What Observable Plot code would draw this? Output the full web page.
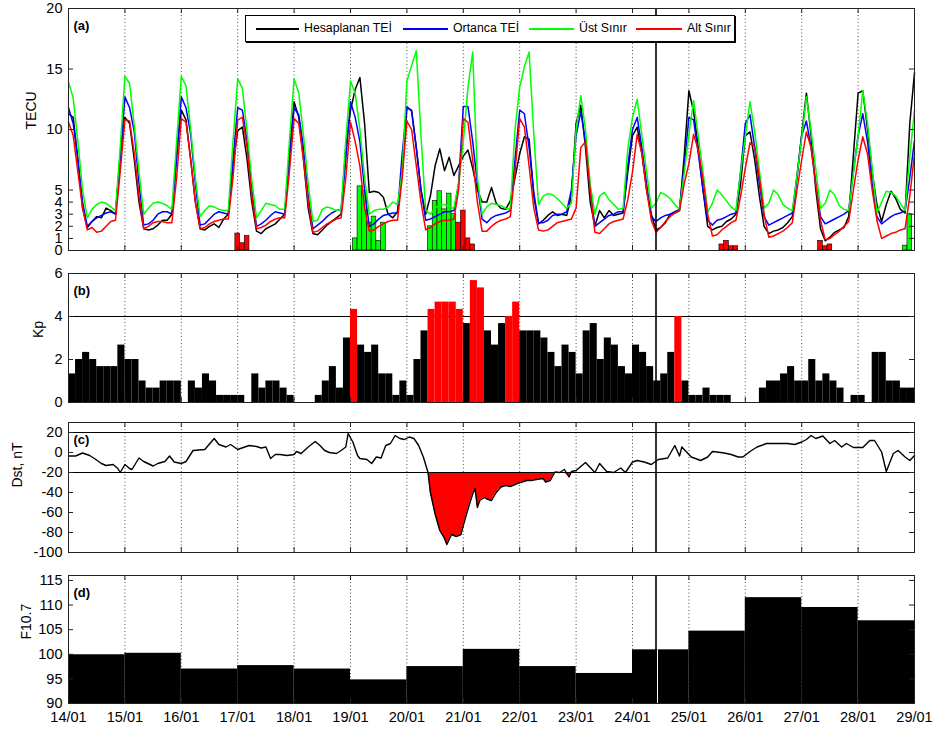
<!DOCTYPE html>
<html><head><meta charset="utf-8">
<script src="https://cdn.jsdelivr.net/npm/d3@7"></script>
<script src="https://cdn.jsdelivr.net/npm/@observablehq/plot@0.6"></script>
<style>
body{margin:0;background:#fff;width:933px;height:731px;position:relative;overflow:hidden;font-family:"Liberation Sans",Arial,sans-serif;}
.panel{position:absolute;left:0;}
#legend{position:absolute;left:245px;top:15px;width:488px;height:25px;border:1px solid #000;box-shadow:1px 1px 0 #000;background:#fff;font-size:12.3px;color:#000;}
#legend .ln{position:absolute;top:12px;height:2px;}
#legend .tx{position:absolute;top:5px;white-space:nowrap;}
</style></head>
<body>
<div id="pa" class="panel" style="top:0"></div>
<div id="pb" class="panel" style="top:262px"></div>
<div id="pc" class="panel" style="top:412px"></div>
<div id="pd" class="panel" style="top:562px"></div>
<div id="legend">
  <div class="ln" style="left:10px;width:43px;background:#000"></div><div class="tx" style="left:58px">Hesaplanan TEİ</div>
  <div class="ln" style="left:157px;width:45px;background:#0000ff"></div><div class="tx" style="left:207px">Ortanca TEİ</div>
  <div class="ln" style="left:283px;width:45px;background:#00ff00"></div><div class="tx" style="left:333px">Üst Sınır</div>
  <div class="ln" style="left:390px;width:46px;background:#ff0000"></div><div class="tx" style="left:441px">Alt Sınır</div>
</div>
<script>
// ---------- DATA ----------
const dayLabels = ["14/01","15/01","16/01","17/01","18/01","19/01","20/01","21/01","22/01","23/01","24/01","25/01","26/01","27/01","28/01","29/01"];
const seriesNames = ["Hesaplanan TEİ","Ortanca TEİ","Üst Sınır","Alt Sınır"];

// TEC, every 2 hours from 14/01 00:00 to 29/01 00:00
const tecHesaplanan = [
11.3,11.0,7.5,3.5,1.9,2.4,2.8,2.7,3.5,3.3,3.0,8.0,
11.0,10.5,7.5,4.0,1.8,1.7,1.8,2.1,2.5,2.5,3.0,8.0,
11.6,10.8,7.5,4.0,1.8,1.7,2.0,2.2,1.9,2.6,3.0,7.0,
9.9,10.2,7.5,4.0,1.6,1.4,1.8,2.0,2.2,2.6,3.0,8.0,
12.3,11.0,7.5,3.5,1.4,1.3,1.7,2.1,2.4,2.7,3.0,8.5,
11.6,13.3,14.3,10.5,4.8,4.9,4.8,4.4,3.0,2.7,3.2,6.5,
11.8,11.6,8.5,5.0,3.0,4.5,7.0,8.4,6.6,7.7,6.2,7.0,
7.8,8.3,6.8,5.0,4.0,4.0,5.2,3.9,3.5,3.4,4.1,6.0,
8.0,9.4,9.2,4.5,2.2,2.5,2.9,3.2,2.9,3.0,2.9,4.5,
10.5,12.0,8.5,4.0,2.0,3.3,2.7,3.3,2.9,3.0,3.1,6.5,
9.5,10.2,8.0,5.0,3.0,1.7,1.9,2.3,3.0,3.1,3.3,7.8,
13.2,11.5,8.5,5.0,2.0,1.7,1.9,2.0,2.4,2.6,3.0,5.5,
9.5,9.8,7.5,4.5,2.0,1.4,1.6,1.7,1.9,2.3,2.8,6.2,
9.6,13.0,9.5,5.0,1.8,0.8,1.1,1.5,1.7,1.9,2.8,7.9,
13.0,13.2,10.0,6.5,3.8,2.4,3.8,4.9,4.3,3.4,3.1,10.5,
14.7];
const tecOrtanca = [
11.8,10.5,7.5,4.0,2.0,2.4,2.7,2.9,3.1,3.2,3.0,7.5,
12.7,11.8,9.8,5.5,2.1,2.2,2.5,3.0,3.2,3.2,3.0,7.5,
12.7,11.8,9.6,5.5,2.1,2.2,2.6,3.0,3.2,3.1,3.0,7.5,
11.8,11.6,9.0,5.0,2.0,2.2,2.5,2.9,3.2,3.1,3.0,7.5,
11.8,11.2,8.5,4.5,1.8,2.1,2.4,2.8,3.1,3.3,3.4,7.5,
12.3,11.0,9.0,5.0,2.0,2.2,2.6,2.9,3.0,3.1,3.1,8.0,
11.9,11.5,8.5,5.0,2.5,2.6,2.8,3.0,3.2,3.2,3.3,5.5,
11.9,11.9,9.0,5.5,2.6,2.3,2.7,2.9,3.0,3.1,3.3,7.5,
11.6,11.3,8.5,4.8,2.3,2.3,2.5,2.9,3.0,3.0,3.2,5.0,
9.5,11.5,9.0,5.0,2.0,2.3,2.6,2.9,3.0,3.2,3.2,7.0,
10.0,11.0,8.5,5.5,2.8,2.4,2.7,2.9,3.0,3.2,3.4,7.0,
11.0,10.8,8.0,5.0,2.5,2.1,2.5,2.6,2.8,3.0,3.1,6.5,
10.5,11.2,8.5,5.5,2.8,2.1,2.3,2.5,2.7,2.9,3.1,6.0,
9.5,10.7,8.5,5.5,2.8,2.2,2.4,2.6,2.8,3.0,3.3,6.5,
9.5,11.3,9.0,5.5,2.8,2.2,2.5,2.8,3.0,3.1,3.3,6.0,
9.1];
const tecUst = [
13.9,12.6,9.0,5.0,2.7,3.4,3.8,4.0,3.9,3.6,3.3,8.5,
14.4,13.8,10.3,6.5,3.0,3.5,3.9,4.0,3.9,3.7,3.4,9.0,
14.4,13.6,10.0,6.0,2.8,3.3,3.7,3.6,3.4,3.3,3.3,9.0,
14.2,13.4,9.8,5.8,2.7,3.3,3.9,3.8,3.7,3.4,3.4,9.0,
14.2,13.0,9.5,5.5,2.4,2.5,3.4,3.6,3.5,3.3,3.4,9.1,
14.0,13.0,10.0,6.0,3.0,3.3,3.4,3.4,3.6,4.0,3.8,6.5,
14.0,15.3,16.5,9.5,3.3,3.0,3.5,3.8,3.8,3.6,3.5,5.5,
9.0,13.5,16.4,6.0,3.0,3.6,3.9,3.8,3.7,3.5,3.4,10.0,
13.5,15.2,16.4,9.6,3.8,4.5,4.7,4.6,4.3,3.9,3.5,3.9,
10.0,12.8,10.0,5.5,3.0,4.5,4.8,4.2,3.8,3.4,3.5,8.4,
11.0,12.5,9.5,6.5,3.5,3.9,4.8,4.6,4.3,3.8,3.4,6.4,
9.6,12.4,9.4,6.5,3.2,3.9,5.0,4.6,4.1,3.6,3.3,6.5,
9.4,12.3,9.8,6.6,3.5,3.9,5.0,4.6,3.8,3.5,3.3,6.2,
9.3,12.7,9.9,6.7,3.5,3.9,5.0,4.6,3.7,3.4,3.3,6.4,
9.5,13.2,10.5,6.8,3.1,4.0,4.9,4.8,4.5,3.9,3.3,7.8,
11.6];
const tecAlt = [
10.6,9.5,6.5,3.5,1.7,1.9,1.5,1.6,2.0,2.4,2.5,6.5,
10.8,10.7,8.0,4.5,1.8,2.0,2.3,2.4,2.4,2.3,2.3,6.0,
10.9,10.6,7.5,4.0,1.8,1.9,2.2,2.4,2.5,2.6,2.6,6.0,
10.8,11.0,8.5,4.5,1.8,1.9,2.1,2.4,2.6,2.7,2.7,6.5,
10.9,10.5,7.5,4.0,1.5,1.6,1.9,2.2,2.4,2.6,2.7,6.0,
10.6,9.0,7.0,3.5,1.6,1.7,2.0,2.2,2.4,2.5,2.5,6.0,
10.7,10.0,7.0,4.0,1.7,1.9,2.2,2.4,2.5,2.5,2.6,5.0,
10.9,10.6,7.5,4.0,1.6,1.6,2.0,2.3,2.5,2.6,2.8,6.5,
10.9,10.2,7.0,3.5,1.7,1.6,1.7,2.0,2.3,2.4,2.5,2.6,
3.5,8.5,9.0,5.0,1.5,1.4,1.8,2.2,2.4,2.5,2.6,4.2,
6.5,9.6,8.0,5.0,2.5,1.5,1.9,2.4,2.8,3.1,3.3,5.5,
7.2,9.6,8.3,5.9,3.0,1.2,1.3,1.7,2.0,2.3,2.5,4.5,
6.8,8.9,8.6,6.0,3.0,1.1,1.2,1.4,1.6,1.9,2.3,5.0,
7.5,9.8,8.5,5.5,2.5,0.9,1.0,1.3,1.6,2.0,2.4,5.0,
7.5,9.4,8.0,5.0,2.5,1.0,1.2,1.4,1.5,1.7,1.8,4.5,
8.0];

// 2-hour bars in panel (a): hour since 14/01 00:00 and height
const barUstHour  = [122,124,126,128,130,132,134, 154,156,158,160,162,164, 356,358];
const barUstValue = [1.0,5.3,4.9,2.3,2.8,0.8,2.3, 2.0,4.1,4.9,3.4,4.7,3.0, 0.4,3.0];
const barAltHour  = [72,74,76, 166,168,170,172, 278,280,282,284, 320,322,324];
const barAltValue = [1.4,0.6,1.2, 2.3,3.3,1.0,0.5, 0.5,0.8,0.35,0.35, 0.8,0.35,0.5];

// Kp, 3-hour values
const kp = [
1.33,2.0,2.33,2.0,1.67,1.67,1.67,2.67,
2.0,2.0,1.0,0.67,0.67,1.0,1.0,1.0,
0,1.0,0.67,1.33,1.0,0.33,0.33,0.33,
0.33,0,1.33,0.67,1.0,1.0,0.67,0.33,
0,0,0,0.33,1.0,1.67,0.67,3.0,
4.33,2.67,2.33,2.67,1.33,1.33,0.33,1.0,
0.33,2.0,3.33,4.33,4.67,4.67,4.67,4.33,
3.67,5.67,5.33,3.33,2.67,3.67,4.0,4.67,
3.33,3.33,3.33,3.0,2.33,1.67,2.67,2.33,
1.33,3.33,3.67,2.0,3.0,2.67,1.67,1.33,
2.67,2.33,1.67,1.0,1.33,2.33,4.0,1.0,
0.33,0.33,0.67,0.33,0.33,0.33,0,0,
0,0,0.67,1.0,1.0,1.33,1.67,1.0,
1.0,2.0,1.0,1.33,1.0,0.67,0,0.33,
0.33,0,2.33,2.33,1.0,1.0,0.67,0.67];

// Dst (nT)
const dstHour = [0,3,6,9,11,14,16,19,21,22,24,26,27,30,32,36,38,41,43,45,48,50,53,58,62,64,67,69,72,75,77,80,82,84,86,88,90,93,96,97,99,102,105,107,109,111,114,116,118,119,121,123,124,127,129,131,133,135,137,139,141,143,145,147,149,151,153,154,156,158,160,161,163,165,167,168,170,172,173,174,175,177,178,180,182,184,186,188,191,193,195,197,199,202,203,205,207,209,211,213,214,216,220,224,226,229,232,235,237,240,242,245,248,251,255,258,260,261,263,265,269,272,274,276,279,282,285,287,290,293,297,302,306,309,312,314,316,318,321,324,326,329,331,334,338,341,343,346,348,351,353,356,358,360];
const dstValue = [-3.5,-3.5,-0.5,-3,-6,-11,-13,-12,-16,-20,-12,-16,-17,-5.5,-9,-13.5,-11,-9,-3.5,-9.5,-11,-9,2,3,14,8,5.5,8,3,5.5,7,6,4.5,5.5,-6,-2,-2,-3,-2,1,-1,5.5,11,7,2,0,-1,2,5.5,19,10.5,-3,-6,-7,-11,-4.5,-5.5,7,9,17,14,13,15.5,14,7,-4.5,-20,-40,-61.5,-78,-86,-92,-82,-84,-82,-73,-56.5,-41.5,-36,-55,-48,-45,-46.5,-48,-40,-34.5,-33,-34,-31,-29.5,-28,-28,-27,-26,-29.5,-28,-19.5,-20,-17,-24.5,-19,-18,-10,-20,-11,-19,-20,-15.5,-20,-9.5,-8,-9.5,-12,-7,-5.5,7,-3.5,5.5,0.5,-4.5,-8,-4.5,1,0.5,-0.5,-2,-4.5,-4.5,1,5.5,9,9,9,8,10.5,13,17,14,16.5,9,12,5.5,9,5,5,12,12,0.5,-19,-1,2,-4.5,-8,-3];

// F10.7 daily
const f107 = [99.9,100.2,97.0,97.7,97.0,94.8,97.5,101.0,97.5,96.1,100.9,104.7,111.5,109.5,106.8];

const markerHour = 250;   // vertical reference line (24/01 ~10 UT)
const kpThreshold = 4;
const dstLevels = [20, -20];

// ---------- HELPERS ----------
const W = 933, ML = 68, MR = 19;
const PW = W - ML - MR;
const dayTicks = d3.range(0, 361, 24);
const innerDays = dayTicks.slice(1, -1);
const tickFont = '"Liberation Sans",Arial,sans-serif';
const style = {fontFamily: tickFont, fontSize: "14.5px", color: "#000", background: "transparent", overflow: "visible"};
const frameColor = "#222";
const plain = d => String(d);

function boxMarks(yTicks, plotH, label, yLabel, labelDx) {
  return [
    Plot.frame({stroke: frameColor, strokeWidth: 1}),
    Plot.tickY(yTicks, {y: d => d, insetRight: PW - 5, stroke: frameColor}),
    Plot.tickY(yTicks, {y: d => d, insetLeft: PW - 5, stroke: frameColor}),
    Plot.tickX(dayTicks, {x: d => d, insetBottom: plotH - 5, stroke: frameColor}),
    Plot.tickX(dayTicks, {x: d => d, insetTop: plotH - 5, stroke: frameColor}),
    Plot.text([label], {text: d => d, frameAnchor: "top-left", dx: 5, dy: 12, fontWeight: "bold", fontSize: 13}),
    Plot.text([yLabel], {text: d => d, frameAnchor: "left", dx: labelDx, rotate: -90, fontSize: 14})
  ];
}
const grid = () => Plot.ruleX(innerDays, {x: d => d, stroke: "#222", strokeWidth: 0.8, strokeDasharray: "1,2.5"});
const marker = () => Plot.ruleX([markerHour], {x: d => d, stroke: "#000", strokeWidth: 1.6});

// ---------- PANEL (a) ----------
const hours = d3.range(0, 361, 2);
const tec = hours.map((h, i) => ({h, hes: tecHesaplanan[i], ort: tecOrtanca[i], ust: tecUst[i], alt: tecAlt[i]}));
const barsUst = barUstHour.map((h, i) => ({h, v: barUstValue[i]}));
const barsAlt = barAltHour.map((h, i) => ({h, v: barAltValue[i]}));
const aTicks = [0,1,2,3,4,5,10,15,20];
const hA = 262, mtA = 8, mbA = 12;
document.getElementById("pa").append(Plot.plot({
  width: W, height: hA, marginLeft: ML, marginRight: MR, marginTop: mtA, marginBottom: mbA, style,
  x: {domain: [0, 360], axis: null},
  y: {domain: [0, 20], ticks: aTicks, tickFormat: plain, tickSize: 0, tickPadding: 6, label: null},
  marks: [
    grid(),
    Plot.rect(barsUst, {x1: d => d.h - 1, x2: d => d.h + 1, y1: () => 0, y2: "v", fill: "#00ff00", stroke: "#000", strokeWidth: 0.6}),
    Plot.rect(barsAlt, {x1: d => d.h - 1, x2: d => d.h + 1, y1: () => 0, y2: "v", fill: "#ff0000", stroke: "#000", strokeWidth: 0.6}),
    Plot.line(tec, {x: "h", y: "hes", stroke: "#000", strokeWidth: 1.5}),
    Plot.line(tec, {x: "h", y: "ort", stroke: "#0000ff", strokeWidth: 1.5}),
    Plot.line(tec, {x: "h", y: "ust", stroke: "#00ff00", strokeWidth: 1.5}),
    Plot.line(tec, {x: "h", y: "alt", stroke: "#ff0000", strokeWidth: 1.5}),
    marker(),
    ...boxMarks(aTicks, hA - mtA - mbA, "(a)", "TECU", -37)
  ]
}));

// ---------- PANEL (b) ----------
const kpData = kp.map((v, i) => ({x1: i * 3, x2: i * 3 + 3, v}));
const bTicks = [0, 2, 4, 6];
const hB = 150, mtB = 11, mbB = 10;
document.getElementById("pb").append(Plot.plot({
  width: W, height: hB, marginLeft: ML, marginRight: MR, marginTop: mtB, marginBottom: mbB, style,
  x: {domain: [0, 360], axis: null},
  y: {domain: [0, 6], ticks: bTicks, tickFormat: plain, tickSize: 0, tickPadding: 6, label: null},
  marks: [
    grid(),
    Plot.ruleY([kpThreshold], {y: d => d, stroke: "#000", strokeWidth: 1}),
    Plot.rect(kpData.filter(d => d.v < kpThreshold), {x1: "x1", x2: "x2", y1: () => 0, y2: "v", fill: "#000"}),
    Plot.rect(kpData.filter(d => d.v >= kpThreshold), {x1: "x1", x2: "x2", y1: () => 0, y2: "v", fill: "#ff0000"}),
    marker(),
    ...boxMarks(bTicks, hB - mtB - mbB, "(b)", "Kp", -30)
  ]
}));

// ---------- PANEL (c) ----------
const dst = dstHour.map((h, i) => ({h, v: dstValue[i]}));
const cTicks = [-100, -80, -60, -40, -20, 0, 20];
const hC = 150, mtC = 10, mbC = 10;
document.getElementById("pc").append(Plot.plot({
  width: W, height: hC, marginLeft: ML, marginRight: MR, marginTop: mtC, marginBottom: mbC, style,
  x: {domain: [0, 360], axis: null},
  y: {domain: [-100, 30], ticks: cTicks, tickFormat: plain, tickSize: 0, tickPadding: 6, label: null},
  marks: [
    grid(),
    Plot.areaY(dst, {x: "h", y1: () => -20, y2: d => Math.min(d.v, -20), fill: "#ff0000"}),
    Plot.ruleY(dstLevels, {y: d => d, stroke: "#000", strokeWidth: 1}),
    Plot.line(dst, {x: "h", y: "v", stroke: "#000", strokeWidth: 1.4}),
    marker(),
    ...boxMarks(cTicks, hC - mtC - mbC, "(c)", "Dst, nT", -51)
  ]
}));

// ---------- PANEL (d) ----------
const fData = f107.map((v, i) => ({x1: i * 24, x2: i * 24 + 24, v}));
const dTicks = [90, 95, 100, 105, 110, 115];
const hD = 169, mtD = 13, mbD = 28;
document.getElementById("pd").append(Plot.plot({
  width: W, height: hD, marginLeft: ML, marginRight: MR, marginTop: mtD, marginBottom: mbD, style,
  x: {domain: [0, 360], ticks: dayTicks, tickFormat: d => dayLabels[d / 24], tickSize: 0, tickPadding: 8, label: null},
  y: {domain: [90, 116], ticks: dTicks, tickFormat: plain, tickSize: 0, tickPadding: 6, label: null},
  marks: [
    grid(),
    Plot.rect(fData, {x1: "x1", x2: "x2", y1: () => 90, y2: "v", fill: "#000"}),
    marker(),
    Plot.ruleX([markerHour], {x: d => d, y1: () => 90, y2: () => f107[10], dx: 1.5, stroke: "#fff", strokeWidth: 1}),
    ...boxMarks(dTicks, hD - mtD - mbD, "(d)", "F10.7", -42)
  ]
}));
</script>
</body></html>
